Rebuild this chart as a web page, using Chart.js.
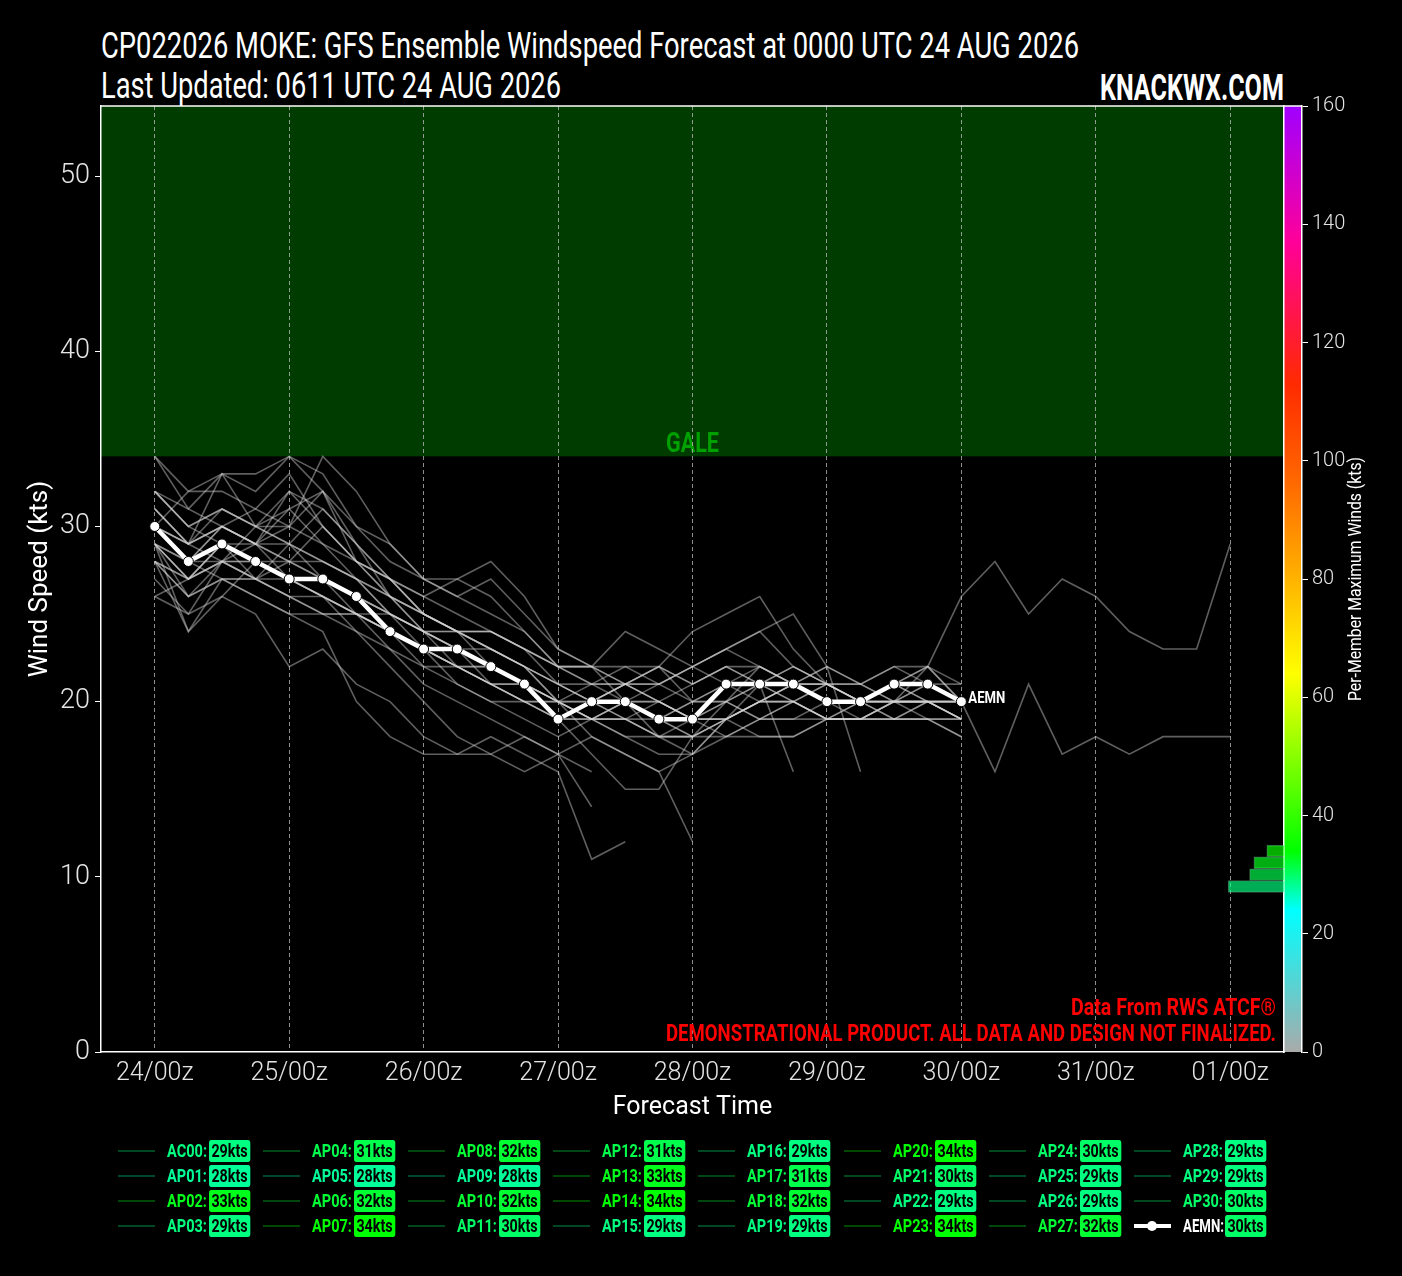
<!DOCTYPE html>
<html>
<head>
<meta charset="utf-8">
<script src="https://cdn.jsdelivr.net/npm/chart.js@4.4.1/dist/chart.umd.min.js"></script>
<style>
  html, body { margin: 0; padding: 0; background: #000; }
  body {
    width: 1402px; height: 1276px; position: relative; overflow: hidden; color: #fff;
    font-family: Roboto, "Liberation Sans", sans-serif;
  }
  #wrap { position: absolute; left: 0; top: 0; width: 1402px; height: 1130px; }
  .hdr { position: absolute; white-space: nowrap; line-height: 1; }
  #t1 { left: 101px; top: 27px; font-size: 37px; font-weight: 400; transform-origin: 0 0; }
  #t2 { left: 101px; top: 67px; font-size: 37px; font-weight: 400; transform-origin: 0 0; }
  #brand { right: 118px; top: 69px; font-size: 37px; font-weight: bold; transform-origin: 100% 0; }
  #legend { position: absolute; left: 0; top: 0; width: 1402px; height: 1276px; pointer-events: none; }
  .item { position: absolute; height: 22px; font-size: 18px; font-weight: bold; line-height: 22px; }
  .item .ln { position: absolute; left: 0; top: 10px; width: 37px; height: 2px; }
  .item .nm { position: absolute; left: 49px; top: 0; white-space: nowrap; transform-origin: 0 50%; }
  .item .bd { position: absolute; left: 91px; top: 0; padding: 0 3px; border-radius: 3px; color: #000;
    white-space: nowrap; transform-origin: 0 50%; }
  .item .mk { position: absolute; left: 13px; top: 6px; width: 10px; height: 10px; border-radius: 50%; background: #fff; }
</style>
</head>
<body>
<div class="hdr" id="t1">CP022026 MOKE: GFS Ensemble Windspeed Forecast at 0000 UTC 24 AUG 2026</div>
<div class="hdr" id="t2">Last Updated: 0611 UTC 24 AUG 2026</div>
<div class="hdr" id="brand">KNACKWX.COM</div>
<div id="wrap"><canvas id="chart" width="1402" height="1130"></canvas></div>
<div id="legend"></div>
<script>
const FONT = 'Roboto, "Liberation Sans", sans-serif';
const GALE_KTS = 34;

// forecast hour of each 6-hourly point (24/00z = 0)
const forecastHours = [0, 6, 12, 18, 24, 30, 36, 42, 48, 54, 60, 66, 72, 78, 84, 90, 96,
  102, 108, 114, 120, 126, 132, 138, 144, 150, 156, 162, 168, 174, 180, 186, 192];
const dayTickHours = [0, 24, 48, 72, 96, 120, 144, 168, 192];
const dayTickLabels = ["24/00z", "25/00z", "26/00z", "27/00z", "28/00z", "29/00z", "30/00z", "31/00z", "01/00z"];
const windTicks = [0, 10, 20, 30, 40, 50];
const maxWindTicks = [0, 20, 40, 60, 80, 100, 120, 140, 160];

const memberNames = ["AC00", "AP01", "AP02", "AP03", "AP04", "AP05", "AP06", "AP07", "AP08", "AP09", "AP10",
  "AP11", "AP12", "AP13", "AP14", "AP15", "AP16", "AP17", "AP18", "AP19", "AP20",
  "AP21", "AP22", "AP23", "AP24", "AP25", "AP26", "AP27", "AP28", "AP29", "AP30"];
const memberMaxKts = [29, 28, 33, 29, 31, 28, 32, 34, 32, 28, 32, 30, 31, 33, 34, 29, 29, 31, 32, 29, 34,
  30, 29, 34, 30, 29, 29, 32, 29, 29, 30];
const aemnMaxKts = 30;

const windAC00 = [29, 27, 28, 27, 26, 25, 25, 24, 23, 22, 22, 21, 20, 20, 21, 20, 19, 19, 20, 21, 21, 20, 20, 21, 20];
const windAP01 = [28, 26, 27, 26, 25, 25, 24, 23, 22, 22, 21, 20, 19, 19, 20, 19, 18, 19, 20, 20, 19, 19, 20, 20, 19];
const windAP02 = [31, 29, 33, 30, 29, 28, 27, 26, 24, 23, 22, 21, 20, 19, 20, 20, 19, 19, 21, 22, 21, 20, 21, 21, 20];
const windAP03 = [27, 25, 28, 29, 27, 26, 24, 22, 20, 18, 17, 18, 17, 16];
const windAP04 = [30, 28, 29, 29, 31, 29, 27, 25, 24, 24, 23, 22, 20, 19, 20, 21, 20, 21, 22, 21, 20, 20, 21, 22, 21];
const windAP05 = [26, 25, 26, 28, 27, 26, 25, 24, 23, 21, 20, 19, 18, 19, 19, 18, 18, 18, 18, 18, 19, 19, 19, 19, 19];
const windAP06 = [32, 30, 29, 28, 27, 26, 25, 25, 24, 22, 21, 20, 19, 20, 21, 20, 19, 20, 22, 21, 20, 19, 20, 20, 20];
const windAP07 = [34, 31, 30, 29, 30, 29, 28, 27, 25, 24, 23, 22, 20, 19, 19, 18, 18, 19, 20, 21, 20, 20, 19, 20, 20];
const windAP08 = [29, 28, 30, 29, 32, 30, 28, 26, 25, 24, 24, 23, 21, 20, 20, 19, 20, 20, 21, 20, 21, 21, 20, 21, 20];
const windAP09 = [28, 24, 26, 25, 22, 23, 21, 20, 18, 17, 17, 16, 17, 14];
const windAP10 = [30, 29, 28, 30, 32, 31, 29, 27, 26, 27, 28, 26, 23, 22, 21, 22, 21, 22, 21, 21, 20, 20, 20, 19, 19];
const windAP11 = [28, 27, 28, 27, 28, 30, 28, 26, 24, 23, 23, 22, 21, 20, 19, 20, 21, 22, 21, 20, 19, 20, 21, 20, 20];
const windAP12 = [30, 29, 31, 30, 29, 28, 27, 26, 25, 24, 24, 23, 22, 22, 22, 21, 22, 23, 22, 21, 21, 20, 20, 20, 20];
const windAP13 = [31, 29, 30, 31, 33, 30, 28, 27, 25, 24, 23, 22, 21, 21, 20, 20, 19, 19, 18, 18, 19, 19, 20, 20, 19];
const windAP14 = [30, 32, 33, 32, 34, 33, 30, 28, 27, 26, 25, 24, 22, 22, 21, 20, 19, 18, 19, 20, 19, 20, 21, 21, 21];
const windAP15 = [29, 26, 28, 27, 26, 26, 25, 24, 23, 23, 22, 21, 19, 17, 15, 15, 18];
const windAP16 = [28, 27, 29, 28, 27, 27, 25, 24, 22, 21, 20, 20, 19, 20, 21, 21, 22, 21, 20, 20, 21, 20, 19, 19, 18];
const windAP17 = [31, 29, 30, 29, 29, 31, 29, 26, 25, 24, 23, 22, 21, 20, 19, 18, 18, 20, 19, 19, 19, 19, 20, 20, 19];
const windAP18 = [32, 30, 31, 30, 30, 32, 29, 27, 26, 25, 24, 23, 22, 22, 24, 23, 22, 23, 24, 22, 21, 20, 20, 22, 20];
const windAP19 = [28, 26, 27, 27, 29, 27, 26, 24, 23, 22, 22, 21, 20, 20, 21, 21, 22, 23, 24, 25, 22, 21, 22, 22, 26,
  28, 25, 27, 26, 24, 23, 23, 29];
const windAP20 = [34, 32, 32, 31, 30, 34, 32, 29, 27, 26, 27, 25, 23, 22, 20, 18, 19, 20, 21, 16];
const windAP21 = [30, 28, 28, 28, 28, 28, 27, 25, 23, 22, 21, 20, 20, 19, 18, 17, 17, 18, 19, 20, 19, 19, 19, 20, 19];
const windAP22 = [29, 27, 29, 27, 27, 27, 26, 25, 24, 23, 21, 20, 20, 18, 17, 16, 17, 19, 20, 21, 22, 16];
const windAP23 = [32, 31, 33, 33, 34, 32, 30, 29, 27, 27, 26, 24, 22, 21, 21, 22, 21, 22, 22, 21, 21, 21, 22, 21, 20];
const windAP24 = [30, 28, 30, 29, 28, 27, 26, 25, 24, 23, 22, 21, 20, 21, 22, 22, 20, 21, 21, 22, 21, 20, 21, 20, 19];
const windAP25 = [29, 28, 27, 27, 26, 25, 25, 23, 21, 20, 19, 18, 17, 18, 17, 16, 12];
const windAP26 = [26, 27, 29, 28, 27, 27, 26, 24, 23, 22, 21, 21, 20, 19, 19, 19, 20, 20, 19, 19, 20, 20, 20, 20, 20,
  16, 21, 17, 18, 17, 18, 18, 18];
const windAP27 = [32, 30, 31, 30, 31, 32, 28, 27, 25, 24, 22, 21, 19, 19, 18, 18, 17, 19, 20, 21, 22, 21, 20, 20, 19];
const windAP28 = [29, 24, 27, 26, 25, 24, 20, 18, 17, 17, 18, 17, 16, 11, 12];
const windAP29 = [29, 27, 28, 28, 27, 26, 25, 24, 23, 22, 21, 21, 19, 20, 20, 19, 18, 19, 20, 20, 19, 19, 19, 19, 18];
const windAP30 = [30, 29, 30, 29, 28, 27, 26, 25, 24, 24, 24, 23, 22, 21, 21, 22, 24, 25, 26, 23, 21, 20, 21, 22, 20];
const windAEMN = [30, 28, 29, 28, 27, 27, 26, 24, 23, 23, 22, 21, 19, 20, 20, 19, 19, 21, 21, 21, 20, 20, 21, 21, 20];

const memberWinds = [windAC00, windAP01, windAP02, windAP03, windAP04, windAP05, windAP06, windAP07, windAP08,
  windAP09, windAP10, windAP11, windAP12, windAP13, windAP14, windAP15, windAP16, windAP17, windAP18, windAP19,
  windAP20, windAP21, windAP22, windAP23, windAP24, windAP25, windAP26, windAP27, windAP28, windAP29, windAP30];

// histogram of per-member maximum winds (2 kt bins)
const histBinEdges = [28, 30, 32, 34, 36];

// colour scale for the max-wind colourbar
const cmapStops = [[0, "#aaaaaa"], [24, "#00ffff"], [34, "#00ff00"], [64, "#ffff00"], [83, "#ffa500"],
  [96, "#ff6a00"], [113, "#ff2a00"], [137, "#ff0099"], [160, "#a000ff"]];

function hexRgb(h) {
  return [parseInt(h.slice(1, 3), 16), parseInt(h.slice(3, 5), 16), parseInt(h.slice(5, 7), 16)];
}

function cmap(v, alpha = 1) {
  let i = 1;
  while (i < cmapStops.length - 1 && v > cmapStops[i][0]) i++;
  const [v0, c0] = cmapStops[i - 1];
  const [v1, c1] = cmapStops[i];
  const t = Math.min(1, Math.max(0, (v - v0) / (v1 - v0)));
  const a = hexRgb(c0), b = hexRgb(c1);
  const rgb = a.map((x, k) => Math.round(x + (b[k] - x) * t));
  return `rgba(${rgb[0]},${rgb[1]},${rgb[2]},${alpha})`;
}

function pts(series) {
  return series.map((v, i) => ({ x: forecastHours[i], y: v }));
}

const allMax = memberMaxKts.concat([aemnMaxKts]);
const histCenters = histBinEdges.slice(0, -1).map((e, i) => (e + histBinEdges[i + 1]) / 2);
const histCounts = histCenters.map((c, i) =>
  allMax.filter((m) => m >= histBinEdges[i] && m < histBinEdges[i + 1]).length);

const datasets = [
  {
    type: "line",
    label: "AEMN",
    data: pts(windAEMN),
    borderColor: "#ffffff",
    borderWidth: 4.5,
    pointRadius: 5,
    pointBackgroundColor: "#ffffff",
    pointBorderColor: "#000000",
    pointBorderWidth: 1,
    order: 0,
    xAxisID: "x",
    yAxisID: "y",
  },
];
memberWinds.forEach((w, i) => {
  datasets.push({
    type: "line",
    label: memberNames[i],
    data: pts(w),
    borderColor: "rgba(210,210,210,0.45)",
    borderWidth: 1.6,
    pointRadius: 0,
    order: 1,
    xAxisID: "x",
    yAxisID: "y",
  });
});
datasets.push({
  type: "bar",
  label: "hist",
  indexAxis: "y",
  data: histCenters.map((c, i) => ({ x: histCounts[i], y: c })),
  backgroundColor: histCenters.map((c) => cmap(c, 0.68)),
  borderColor: "rgba(120,210,160,0.45)",
  borderWidth: 1,
  barThickness: 11.8,
  order: 2,
  xAxisID: "xh",
  yAxisID: "cb",
});

// draw text squeezed to a given width (stand-in for the condensed face)
function squeezeText(ctx, text, x, y, width, align) {
  const w = ctx.measureText(text).width;
  const s = Math.min(1, width / w);
  ctx.save();
  ctx.translate(x, y);
  ctx.scale(s, 1);
  ctx.textAlign = align;
  ctx.fillText(text, 0, 0);
  ctx.restore();
}

const decor = {
  id: "decor",
  beforeDraw(chart) {
    const { ctx, chartArea: a, scales } = chart;
    const yG = scales.y.getPixelForValue(GALE_KTS);
    ctx.save();
    ctx.fillStyle = "#003c00";
    ctx.fillRect(a.left, a.top, a.right - a.left, yG - a.top);
    ctx.fillStyle = "#00a000";
    ctx.font = `bold 28px ${FONT}`;
    ctx.textBaseline = "alphabetic";
    squeezeText(ctx, "GALE", (a.left + a.right) / 2, yG - 4, 53, "center");
    const cb = scales.cbar;
    const y0 = cb.getPixelForValue(0), y1 = cb.getPixelForValue(160);
    const g = ctx.createLinearGradient(0, y0, 0, y1);
    cmapStops.forEach(([v, c]) => g.addColorStop(v / 160, c));
    ctx.fillStyle = g;
    ctx.fillRect(cb.left, y1, cb.right - cb.left, y0 - y1);
    ctx.restore();
  },
  afterDraw(chart) {
    const { ctx, chartArea: a, scales } = chart;
    ctx.save();
    // top frame line
    ctx.strokeStyle = "#ffffff";
    ctx.lineWidth = 1.5;
    ctx.beginPath();
    ctx.moveTo(a.left, a.top);
    ctx.lineTo(scales.cbar.right, a.top);
    ctx.stroke();
    // colourbar title, reading upwards
    const cb = scales.cb;
    ctx.save();
    ctx.translate(1356, (cb.top + cb.bottom) / 2);
    ctx.rotate(-Math.PI / 2);
    ctx.fillStyle = "#ffffff";
    ctx.font = `19px ${FONT}`;
    ctx.textBaseline = "middle";
    squeezeText(ctx, "Per-Member Maximum Winds (kts)", 0, 0, 244, "center");
    ctx.restore();
    // AEMN end label
    const meta = chart.getDatasetMeta(0);
    const last = meta.data[meta.data.length - 1];
    ctx.fillStyle = "#ffffff";
    ctx.font = `bold 17px ${FONT}`;
    ctx.textBaseline = "middle";
    squeezeText(ctx, "AEMN", last.x + 7, last.y - 3, 37, "left");
    // data notes
    ctx.fillStyle = "#ff0000";
    ctx.font = `bold 23px ${FONT}`;
    ctx.textBaseline = "alphabetic";
    squeezeText(ctx, "Data From RWS ATCF\u00ae", a.right - 8, a.bottom - 37, 205, "right");
    squeezeText(ctx, "DEMONSTRATIONAL PRODUCT. ALL DATA AND DESIGN NOT FINALIZED.", a.right - 8, a.bottom - 11, 610, "right");
    ctx.restore();
  },
};

const tickColor = "#e4e4e4";

new Chart(document.getElementById("chart"), {
  data: { datasets },
  options: {
    responsive: false,
    animation: false,
    events: [],
    layout: { padding: { top: 106, left: 0, right: 0, bottom: 0 } },
    plugins: { legend: { display: false }, tooltip: { enabled: false } },
    scales: {
      x: {
        type: "linear",
        position: "bottom",
        min: -9.6,
        max: 201.6,
        afterBuildTicks: (s) => { s.ticks = dayTickHours.map((v) => ({ value: v })); },
        afterFit: (s) => { s.height = 78; },
        ticks: {
          autoSkip: false,
          maxRotation: 0,
          color: tickColor,
          padding: 7,
          font: { family: FONT, size: 25, weight: 300 },
          callback: (v) => dayTickLabels[dayTickHours.indexOf(v)],
        },
        grid: { color: "rgba(190,190,190,0.75)", lineWidth: 1, drawTicks: false },
        border: { color: "#ffffff", width: 1.5, dash: [4, 3] },
        title: {
          display: true,
          text: "Forecast Time",
          color: "#ffffff",
          font: { family: FONT, size: 25 },
          padding: { top: 0, bottom: 7 },
        },
      },
      xh: {
        type: "linear",
        display: false,
        position: "bottom",
        reverse: true,
        min: 0,
        max: 275,
      },
      y: {
        type: "linear",
        position: "left",
        min: 0,
        max: 54,
        afterBuildTicks: (s) => { s.ticks = windTicks.map((v) => ({ value: v })); },
        afterFit: (s) => { s.width = 101; },
        ticks: { color: tickColor, padding: 5, font: { family: FONT, size: 27, weight: 300 } },
        grid: { drawOnChartArea: false, drawTicks: true, tickLength: 6, color: "#ffffff" },
        border: { color: "#ffffff", width: 1.5 },
        title: {
          display: true,
          text: "Wind Speed (kts)",
          color: "#ffffff",
          font: { family: FONT, size: 26 },
          padding: { top: 25, bottom: 0 },
        },
      },
      cbar: {
        type: "linear",
        position: "right",
        weight: 0,
        min: 0,
        max: 160,
        offset: false,
        afterFit: (s) => { s.width = 18; },
        ticks: { display: false },
        grid: { drawOnChartArea: false, drawTicks: false, offset: false },
        border: { color: "#ffffff", width: 1.5 },
      },
      cb: {
        type: "linear",
        position: "right",
        weight: 1,
        min: 0,
        max: 160,
        offset: false,
        afterBuildTicks: (s) => { s.ticks = maxWindTicks.map((v) => ({ value: v })); },
        afterFit: (s) => { s.width = 100; },
        ticks: { color: tickColor, padding: 4, font: { family: FONT, size: 20, weight: 300 } },
        grid: { drawOnChartArea: false, drawTicks: true, tickLength: 6, color: "#ffffff", offset: false },
        border: { color: "#ffffff", width: 1.5 },
      },
    },
  },
  plugins: [decor],
});

function buildLegend() {
  const box = document.getElementById("legend");
  const names = memberNames.concat(["AEMN"]);
  const maxes = memberMaxKts.concat([aemnMaxKts]);
  names.forEach((name, i) => {
    const col = Math.floor(i / 4), row = i % 4;
    const isMean = name === "AEMN";
    const el = document.createElement("div");
    el.className = "item";
    el.style.left = `${118 + col * 145.1}px`;
    el.style.top = `${1140 + row * 25}px`;
    const lineColor = isMean ? "#ffffff" : cmap(maxes[i], 0.28);
    const lineH = isMean ? 4 : 2;
    el.innerHTML =
      `<span class="ln" style="background:${lineColor};height:${lineH}px;top:${isMean ? 9 : 10}px"></span>` +
      (isMean ? `<span class="mk"></span>` : "") +
      `<span class="nm" style="color:${isMean ? "#ffffff" : cmap(maxes[i])}">${name}:</span>` +
      `<span class="bd" style="background:${cmap(maxes[i])}">${maxes[i]}kts</span>`;
    box.appendChild(el);
  });
  // squeeze names and badges to the narrow widths of the original face
  const nm0 = box.querySelector(".nm").getBoundingClientRect().width;
  const bd0 = box.querySelector(".bd").getBoundingClientRect().width;
  const nmScale = 40 / nm0;
  box.querySelectorAll(".nm").forEach((e) => {
    const w = e.getBoundingClientRect().width;
    e.style.transform = `scaleX(${Math.min(nmScale, 41 / w)})`;
  });
  box.querySelectorAll(".bd").forEach((e) => { e.style.transform = `scaleX(${41 / bd0})`; });
}

function fitWidth(id, target) {
  const el = document.getElementById(id);
  const w = el.getBoundingClientRect().width;
  if (w > 0) el.style.transform = `scaleX(${target / w})`;
}

buildLegend();
fitWidth("t1", 978);
fitWidth("t2", 460);
fitWidth("brand", 184);
</script>
</body>
</html>
